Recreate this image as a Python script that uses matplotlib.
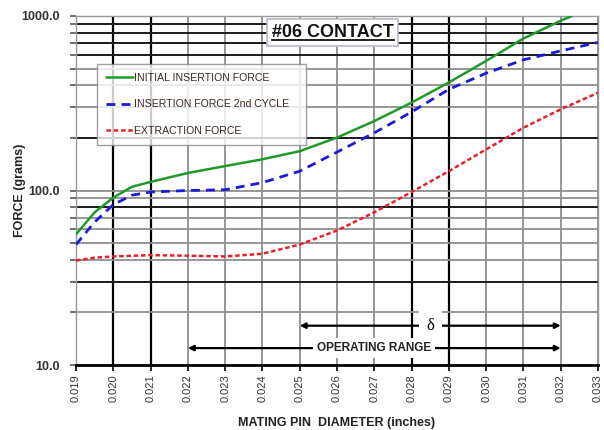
import matplotlib
matplotlib.use("Agg")
import matplotlib.pyplot as plt

# ---------------- data ----------------
x_initial = [0.019, 0.0195, 0.020, 0.0205, 0.021, 0.022, 0.023, 0.024, 0.025,
             0.026, 0.027, 0.028, 0.029, 0.030, 0.031, 0.032, 0.0323]
f_initial = [56, 75, 91, 105, 112, 126, 138, 151, 168,
             201, 250, 319, 416, 553, 743, 940, 1000]

x_second = [0.019, 0.0195, 0.020, 0.0205, 0.021, 0.022, 0.023, 0.024, 0.025,
            0.026, 0.027, 0.028, 0.029, 0.030, 0.031, 0.032, 0.033]
f_second = [49, 66, 83, 94, 98, 100, 101, 111, 129,
            166, 214, 282, 380, 470, 561, 631, 706]

x_extract = [0.019, 0.0195, 0.020, 0.021, 0.022, 0.023, 0.024, 0.025,
             0.026, 0.027, 0.028, 0.029, 0.030, 0.031, 0.032, 0.033]
f_extract = [39.7, 41.2, 41.9, 42.6, 42.3, 41.9, 43.4, 49,
             59, 75, 98, 129, 172, 229, 292, 363]

x_ticks = [0.019, 0.020, 0.021, 0.022, 0.023, 0.024, 0.025, 0.026,
           0.027, 0.028, 0.029, 0.030, 0.031, 0.032, 0.033]
x_tick_labels = ["%.3f" % v for v in x_ticks]
y_major = [10, 100, 1000]
y_major_labels = ["10.0", "100.0", "1000.0"]
y_minor = [20, 30, 40, 50, 60, 70, 80, 90, 200, 300, 400, 500, 600, 700, 800, 900]

series_labels = ["INITIAL INSERTION FORCE", "INSERTION FORCE 2nd CYCLE", "EXTRACTION FORCE"]
title_text = "#06 CONTACT"
xlabel_text = "MATING PIN  DIAMETER (inches)"
ylabel_text = "FORCE (grams)"

delta_range = (0.025, 0.032)
operating_range = (0.022, 0.032)
delta_level = 16.8
operating_level = 12.5

# styles for the grid (which lines are drawn dark in the scan)
dark_x = [0.020, 0.021, 0.028, 0.029]
dark_y = [900, 800, 700, 600, 200, 80, 30]

plt.rcParams['font.family'] = ['Liberation Sans', 'DejaVu Sans']

fig = plt.figure(figsize=(6.04, 4.30), dpi=100)
ax = fig.add_axes([76/604, 1-365/430, (598-76)/604, (365-16)/430])
ax.set_yscale('log')
ax.set_xlim(0.019, 0.033)
ax.set_ylim(10, 1000)

# grid
for xv in x_ticks:
    if xv in dark_x:
        ax.axvline(xv, color='black', lw=1.6, zorder=1)
    else:
        ax.axvline(xv, color='#8f8f8f', lw=1.3, zorder=1)
for yv in y_minor + [100]:
    if yv in dark_y:
        ax.axhline(yv, color='#1a1a1a', lw=1.4, zorder=1)
    else:
        ax.axhline(yv, color='#8f8f8f', lw=1.3, zorder=1)

# curves
ax.plot(x_initial, f_initial, color='#1f9a2a', lw=1.8, zorder=4,
        label=series_labels[0], solid_capstyle='round', solid_joinstyle='round')
ax.plot(x_second, f_second, color='#1a1ad8', lw=2.0, zorder=4,
        dashes=(3.2, 2.2), label=series_labels[1])
ax.plot(x_extract, f_extract, color='#e8202a', lw=1.8, zorder=4,
        dashes=(1.8, 1.1), label=series_labels[2])

# ticks
ax.set_xticks(x_ticks)
ax.set_xticklabels(x_tick_labels, rotation=90, fontsize=8, color='#333333')
ax.set_yticks(y_major)
ax.set_yticklabels(y_major_labels, fontsize=9, fontweight='bold', color='#333333')
ax.set_yticks(y_minor, minor=True)
ax.set_yticklabels([], minor=True)
ax.tick_params(axis='x', which='major', direction='out', length=4, width=1.2,
               color='black', pad=3)
ax.tick_params(axis='y', which='both', direction='out', length=4, width=1.2,
               color='#555555', pad=8)

for side in ['top', 'right', 'left']:
    ax.spines[side].set_color('#999999')
    ax.spines[side].set_linewidth(1.0)
ax.spines['bottom'].set_color('black')
ax.spines['bottom'].set_linewidth(2.0)

# axis titles placed explicitly inside the figure
fig.text(337/604, 1-423/430, xlabel_text, ha='center', va='center',
         fontsize=9, fontweight='bold', color='#222222')
fig.text(20/604, 1-190/430, ylabel_text, ha='center', va='center', rotation=90,
         fontsize=9, fontweight='bold', color='#222222')

# legend
leg = ax.legend(loc='upper left', bbox_to_anchor=(0.040, 0.633, 0.40, 0.229),
                mode='expand', fontsize=7.6, labelspacing=1.55, handlelength=2.6,
                handletextpad=0.05, borderpad=0.85, borderaxespad=0,
                frameon=True, fancybox=False, shadow=False)
leg.get_frame().set_edgecolor('#888888')
leg.get_frame().set_linewidth(1.0)
leg.set_zorder(6)
for t in leg.get_texts():
    t.set_color('#3a2a20')

# title (baseline placed, underlined)
title_y = (365-37)/349
ttl = ax.text(0.492, title_y, title_text, transform=ax.transAxes, ha='center', va='baseline',
              fontsize=13, fontweight='bold', color='#111111', zorder=7,
              bbox=dict(boxstyle='square,pad=0.25', facecolor='white', edgecolor='#b8b8c8', lw=1.2))

# range arrows
arrow_kw = dict(arrowstyle='-|>', color='black', lw=1.6, mutation_scale=8, shrinkA=0, shrinkB=0)
mid_d = (delta_range[0] + delta_range[1]) / 2
ax.annotate('', xy=(delta_range[0], delta_level), xytext=(mid_d, delta_level),
            arrowprops=arrow_kw, zorder=5)
ax.annotate('', xy=(delta_range[1], delta_level), xytext=(mid_d, delta_level),
            arrowprops=arrow_kw, zorder=5)
ax.text(mid_d, delta_level, 'δ', ha='center', va='center', fontsize=12,
        family=['Liberation Serif', 'DejaVu Serif'], zorder=7,
        bbox=dict(boxstyle='square,pad=0.45', facecolor='white', edgecolor='none'))

mid_o = (operating_range[0] + operating_range[1]) / 2
ax.annotate('', xy=(operating_range[0], operating_level), xytext=(mid_o, operating_level),
            arrowprops=arrow_kw, zorder=5)
ax.annotate('', xy=(operating_range[1], operating_level), xytext=(mid_o, operating_level),
            arrowprops=arrow_kw, zorder=5)
ax.text(mid_o, operating_level, 'OPERATING RANGE', ha='center', va='center', fontsize=8.5,
        fontweight='bold', color='#222222', zorder=7,
        bbox=dict(boxstyle='square,pad=0.35', facecolor='white', edgecolor='none'))

# underline the title, just below its baseline
fig.canvas.draw()
bb = ttl.get_window_extent(renderer=fig.canvas.get_renderer())
inv = ax.transAxes.inverted()
(x0, _), (x1, _) = inv.transform([(bb.x0, bb.y0), (bb.x1, bb.y1)])
uy = title_y - 2.5/349
ax.plot([x0, x1], [uy, uy], transform=ax.transAxes, color='#111111', lw=1.3,
        zorder=8, clip_on=False)

fig.savefig('out.png', dpi=100)
